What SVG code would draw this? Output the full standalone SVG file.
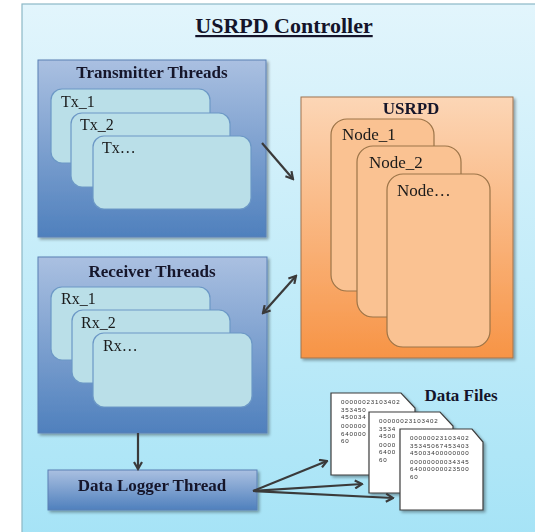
<svg xmlns="http://www.w3.org/2000/svg" width="535" height="532" viewBox="0 0 535 532">
  <defs>
    <linearGradient id="bg" x1="0" y1="0" x2="0" y2="1">
      <stop offset="0" stop-color="#e2f5fc"/>
      <stop offset="1" stop-color="#a5e3f6"/>
    </linearGradient>
    <linearGradient id="blue" x1="0" y1="0" x2="0" y2="1">
      <stop offset="0" stop-color="#aac0e1"/>
      <stop offset="1" stop-color="#4f80bd"/>
    </linearGradient>
    <linearGradient id="orange" x1="0" y1="0" x2="0" y2="1">
      <stop offset="0" stop-color="#fcd6b6"/>
      <stop offset="1" stop-color="#f79446"/>
    </linearGradient>
    <filter id="shadow" x="-10%" y="-10%" width="130%" height="130%">
      <feGaussianBlur in="SourceAlpha" stdDeviation="1.5"/>
      <feOffset dx="1.5" dy="2" result="b"/>
      <feComponentTransfer><feFuncA type="linear" slope="0.35"/></feComponentTransfer>
      <feMerge><feMergeNode/><feMergeNode in="SourceGraphic"/></feMerge>
    </filter>
    <marker id="arrow" viewBox="0 0 10 10" refX="8.5" refY="5" markerWidth="10" markerHeight="10" orient="auto-start-reverse" markerUnits="userSpaceOnUse">
      <polyline points="1.5,1 8.5,5 1.5,9" fill="none" stroke="#3a3a3a" stroke-width="2.2" stroke-linejoin="miter"/>
    </marker>
  </defs>
  <style>
    .title { font-family: "Liberation Serif", "Times New Roman", serif; font-weight: 700; font-size: 17px; fill: #14142a; }
    .lbl { font-family: "Liberation Serif", "Times New Roman", serif; font-size: 16px; fill: #1a1a1a; }
    .nlbl { font-family: "Liberation Serif", "Times New Roman", serif; font-size: 17px; fill: #1a1a1a; }
    .group { fill: url(#blue); stroke: #5a80b4; stroke-width: 1; }
    .thread { fill: #badfe8; stroke: #6c98c6; stroke-width: 1.2; }
    .node { fill: #fac292; stroke: #9c7448; stroke-width: 1.2; }
    .file { fill: #ffffff; stroke: #3c3c3c; stroke-width: 1.2; }
    .num { font-family: "Liberation Sans", sans-serif; font-size: 6.2px; letter-spacing: 0.8px; fill: #333; }
    .conn { fill: none; stroke: #3a3a3a; stroke-width: 2.2; }
  </style>

  <!-- controller frame -->
  <g id="controller">
    <rect x="22" y="4" width="530" height="540" fill="url(#bg)" stroke="#8cb8c6" stroke-width="1.2"/>
    <text class="title" x="284" y="33" style="font-size:22px" text-anchor="middle" text-decoration="underline">USRPD Controller</text>
  </g>

  <!-- transmitter threads -->
  <g id="transmitter-threads" filter="url(#shadow)">
    <rect class="group" x="38" y="60" width="228" height="177"/>
    <text class="title" x="152" y="78" text-anchor="middle">Transmitter Threads</text>
    <rect class="thread" x="51" y="89" width="159" height="74" rx="11"/>
    <text class="lbl" x="61" y="107">Tx_1</text>
    <rect class="thread" x="71" y="113" width="159" height="74" rx="11"/>
    <text class="lbl" x="80" y="130">Tx_2</text>
    <rect class="thread" x="93" y="136" width="158" height="73" rx="11"/>
    <text class="lbl" x="102" y="153">Tx…</text>
  </g>

  <!-- receiver threads -->
  <g id="receiver-threads" filter="url(#shadow)">
    <rect class="group" x="38" y="257" width="229" height="176"/>
    <text class="title" x="152" y="277" text-anchor="middle">Receiver Threads</text>
    <rect class="thread" x="51" y="287" width="159" height="73" rx="11"/>
    <text class="lbl" x="61" y="304">Rx_1</text>
    <rect class="thread" x="72" y="310" width="158" height="73" rx="11"/>
    <text class="lbl" x="81" y="328">Rx_2</text>
    <rect class="thread" x="93" y="333" width="159" height="74" rx="11"/>
    <text class="lbl" x="103" y="351">Rx…</text>
  </g>

  <!-- USRPD device nodes -->
  <g id="usrpd" filter="url(#shadow)">
    <rect x="301" y="97" width="212" height="261" fill="url(#orange)" stroke="#a07450" stroke-width="1"/>
    <text class="title" x="411" y="114" text-anchor="middle">USRPD</text>
    <rect class="node" x="331" y="119" width="103" height="172" rx="16"/>
    <text class="nlbl" x="342" y="140">Node_1</text>
    <rect class="node" x="357" y="146" width="104" height="171" rx="16"/>
    <text class="nlbl" x="369" y="168">Node_2</text>
    <rect class="node" x="387" y="174" width="103" height="173" rx="16"/>
    <text class="nlbl" x="397" y="196">Node…</text>
  </g>

  <!-- data logger -->
  <g id="data-logger" filter="url(#shadow)">
    <rect class="group" x="48" y="470" width="209" height="40"/>
    <text class="title" x="152" y="491" text-anchor="middle">Data Logger Thread</text>
  </g>

  <!-- data files, stacked; only the uncovered part of each listing is written -->
  <g id="data-files">
    <text class="title" x="461" y="401" text-anchor="middle">Data Files</text>
    <g id="file-1" filter="url(#shadow)">
      <path class="file" d="M331,393 H401 L415,408 V475 H331 Z"/>
      <text class="num" x="341" y="404">00000023103402</text>
      <text class="num" x="341" y="411.5">353450</text>
      <text class="num" x="341" y="419">450034</text>
      <text class="num" x="341" y="428">000000</text>
      <text class="num" x="341" y="435.5">640000</text>
      <text class="num" x="341" y="443">60</text>
    </g>
    <g id="file-2" filter="url(#shadow)">
      <path class="file" d="M369,412 H440 L453,426 V493 H369 Z"/>
      <text class="num" x="379" y="423">00000023103402</text>
      <text class="num" x="379" y="430.5">3534</text>
      <text class="num" x="379" y="438">4500</text>
      <text class="num" x="379" y="446.5">0000</text>
      <text class="num" x="379" y="454">6400</text>
      <text class="num" x="379" y="461.5">60</text>
    </g>
    <g id="file-3" filter="url(#shadow)">
      <path class="file" d="M400,429 H472 L483,442 V510 H400 Z"/>
      <text class="num" x="410" y="440">00000023103402</text>
      <text class="num" x="410" y="447.5">35345067453403</text>
      <text class="num" x="410" y="455">45003400000000</text>
      <text class="num" x="410" y="463.5">00000000034345</text>
      <text class="num" x="410" y="471">64000000023500</text>
      <text class="num" x="410" y="478.5">60</text>
    </g>
  </g>

  <!-- connectors -->
  <g id="connectors">
    <line class="conn" x1="262" y1="143" x2="293" y2="179" marker-end="url(#arrow)"/>
    <line class="conn" x1="263" y1="313" x2="296" y2="276" marker-start="url(#arrow)" marker-end="url(#arrow)"/>
    <line class="conn" x1="138" y1="433" x2="138" y2="469" marker-end="url(#arrow)"/>
    <line class="conn" x1="253" y1="491" x2="327" y2="461" marker-end="url(#arrow)"/>
    <line class="conn" x1="253" y1="491" x2="362" y2="484" marker-end="url(#arrow)"/>
    <line class="conn" x1="253" y1="491" x2="393" y2="498" marker-end="url(#arrow)"/>
  </g>
</svg>
